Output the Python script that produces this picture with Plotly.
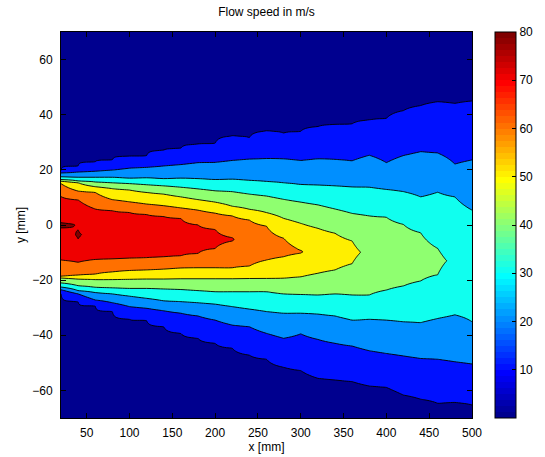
import numpy as np
import plotly.graph_objects as go

# Measurement stations downstream of the nozzle [mm]
x_mm = [20, 40, 60, 80, 100, 120, 140, 160, 180, 200, 220, 240, 260,
        280, 300, 320, 340, 360, 380, 400, 420, 440, 460, 480, 500]

# Isoline positions y [mm] of each speed level at every station,
# upper side of the jet (None: level not reached at that station)
up_10 = [19.7, 21.4, 22.9, 23.6, 25.0, 25.1, 27.1, 27.8, 29.3, 29.6, 32.3, 31.7, 34.1,
         33.3, 34.0, 35.7, 36.5, 36.7, 38.1, 38.7, 41.5, 43.3, 44.7, 44.1, 45.0]
up_20 = [18.9, 19.2, 19.5, 19.9, 20.6, 20.9, 21.4, 21.9, 22.6, 22.7, 23.4, 23.9, 24.1,
         24.0, 23.4, 24.0, 23.8, 23.3, 25.3, 22.6, 25.2, 26.6, 26.1, 22.1, 23.6]
up_30 = [17.5, 17.3, 17.3, 17.3, 17.0, 17.1, 16.8, 17.0, 16.8, 16.5, 16.6, 16.2, 15.8,
         15.3, 14.7, 14.5, 14.2, 13.8, 13.7, 12.9, 12.1, 10.2, 11.9, 10.2, 5.4]
up_40 = [16.5, 16.0, 15.6, 15.3, 15.0, 14.6, 14.2, 13.7, 13.1, 12.4, 12.1, 11.2, 10.5,
         9.3, 8.3, 7.3, 5.8, 4.2, 3.3, 2.8, 0.2, -2.8, -8.5, None, None]
up_50 = [15.9, 15.3, 13.9, 13.2, 12.7, 11.8, 11.2, 10.2, 9.2, 8.3, 6.8, 5.7, 4.5,
         2.4, 0.6, -1.2, -3.0, -5.8, None, None, None, None, None, None, None]
up_60 = [15.0, 12.3, 11.8, 9.2, 8.4, 7.6, 7.0, 6.2, 5.4, 4.3, 3.3, 1.8, -0.4,
         -4.8, -9.2, None, None, None, None, None, None, None, None, None, None]
up_70 = [10.3, 9.1, 5.8, 5.2, 4.5, 3.8, 3.1, 2.4, 0.0, -1.6, -4.6, None, None,
         None, None, None, None, None, None, None, None, None, None, None, None]

# lower side of the jet
lo_70 = [-12.7, -13.5, -12.5, -12.3, -12.0, -11.9, -11.5, -11.2, -10.3, -8.5, -5.8, None, None,
         None, None, None, None, None, None, None, None, None, None, None, None]
lo_60 = [-18.7, -18.2, -17.8, -17.0, -16.5, -16.3, -16.0, -15.6, -15.5, -15.5, -15.5, -14.9, -12.7,
         -11.5, -10.2, None, None, None, None, None, None, None, None, None, None]
lo_50 = [-19.2, -19.6, -19.8, -19.8, -19.7, -19.6, -19.6, -19.5, -19.5, -19.5, -19.5, -19.4, -19.4,
         -19.3, -18.8, -17.5, -16.3, -14.0, None, None, None, None, None, None, None]
lo_40 = [-21.0, -22.0, -22.6, -22.8, -23.0, -23.0, -23.2, -23.4, -23.8, -24.2, -24.2, -24.2, -24.2,
         -25.0, -25.2, -25.4, -25.0, -25.4, -25.4, -23.6, -22.1, -20.3, -18.0, None, None]
lo_30 = [-22.5, -23.8, -24.5, -25.0, -25.8, -26.6, -27.5, -27.8, -28.2, -28.7, -29.6, -30.5, -31.4,
         -32.0, -32.0, -32.3, -33.0, -34.5, -34.2, -34.5, -35.1, -35.4, -33.9, -32.6, -35.1]
lo_20 = [-23.5, -25.0, -27.2, -28.2, -29.6, -30.2, -31.1, -32.0, -33.0, -34.5, -36.3, -36.9, -39.3,
         -41.1, -39.5, -41.5, -42.9, -43.9, -45.6, -46.6, -47.5, -48.4, -48.7, -49.6, -50.4]
lo_10 = [-24.8, -27.8, -29.4, -31.4, -34.2, -34.7, -36.9, -39.3, -41.1, -42.9, -44.7, -47.2, -48.7,
         -51.6, -52.8, -55.6, -56.2, -56.8, -58.4, -58.9, -61.7, -63.2, -64.7, -64.4, -65.3]

# Jet core: peak speed [m/s] and its position y [mm] at each station
peak_speed = [80.9, 80.4, 78.5, 77.5, 76.5, 75.5, 74.5, 73.5, 72.5, 71.5, 70.5, 67.5, 64.5,
              62.3, 60.4, 57.5, 54.5, 51.5, 48.5, 46.5, 44.5, 42.8, 41.3, 38.8, 37.5]
peak_y = [0.0, -3.6, -3.5, -3.5, -3.5, -4.0, -4.0, -4.5, -5.0, -5.0, -5.2, -6.5, -8.0,
          -8.5, -9.7, -9.7, -9.7, -9.7, -10.0, -11.0, -12.0, -12.5, -13.0, -13.0, -13.0]

# Extra core samples near the nozzle (station x [mm], y [mm], speed [m/s])
core_x = [40, 40, 40]
core_y = [-5.1, -1.8, 0.3]
core_v = [80.0, 80.0, 79.75]

# Ambient speed at the edges of the traverse
ambient_speed = 2.0

levels = [10, 20, 30, 40, 50, 60, 70]
upper = [up_10, up_20, up_30, up_40, up_50, up_60, up_70]
lower = [lo_10, lo_20, lo_30, lo_40, lo_50, lo_60, lo_70]

# Speed table on a regular (x, y) grid, built from the station profiles
y_grid = np.round(np.arange(-70.0, 70.0001, 0.25), 3)
speed = np.empty((y_grid.size, len(x_mm)))
for i, xs in enumerate(x_mm):
    samples = [(-70.0, ambient_speed), (70.0, ambient_speed), (peak_y[i], peak_speed[i])]
    for lev, lo_arr, up_arr in zip(levels, lower, upper):
        if lo_arr[i] is not None:
            samples.append((lo_arr[i], lev))
        if up_arr[i] is not None:
            samples.append((up_arr[i], lev))
    samples += [(cy, cv) for cx, cy, cv in zip(core_x, core_y, core_v) if cx == xs]
    samples.sort()
    ys, vs = zip(*samples)
    speed[:, i] = np.interp(y_grid, ys, vs)


def jet64():
    """MATLAB-style jet colormap with 64 entries, as a stepped Plotly colorscale."""
    n, m = 64, 16
    u = np.concatenate([np.arange(1, m + 1) / m, np.ones(m - 1), np.arange(m, 0, -1) / m])
    g = (m // 2) + np.arange(1, u.size + 1)
    r, b = g + m, g - m
    rgb = np.zeros((n, 3))
    for ch, idx in ((0, r), (1, g), (2, b)):
        ok = (idx >= 1) & (idx <= n)
        rgb[idx[ok] - 1, ch] = u[ok]
    scale, eps = [], 1e-4
    for j in range(n):
        c = "rgb({:d},{:d},{:d})".format(*[int(round(v * 255)) for v in rgb[j]])
        lo = 0.0 if j == 0 else j / n - eps
        hi = 1.0 if j == n - 1 else (j + 1) / n - eps
        scale += [[lo, c], [hi, c]]
    return scale


JET = jet64()
FONT = "Liberation Sans, Arial, Helvetica, sans-serif"

fig = go.Figure()

# Heatmap layer carries the colour scale shown in the colour bar
fig.add_trace(go.Heatmap(
    x=x_mm, y=y_grid, z=speed, colorscale=JET, zmin=0, zmax=80,
    hoverinfo="skip",
    colorbar=dict(
        x=(495 - 61) / 411, xanchor="left", xpad=0,
        y=0.5, yanchor="middle", ypad=0, len=1, lenmode="fraction",
        thickness=21, thicknessmode="pixels",
        outlinewidth=1, outlinecolor="black",
        tickvals=[10, 20, 30, 40, 50, 60, 70, 80],
        ticks="inside", ticklen=4, tickcolor="black",
        tickfont=dict(family=FONT, size=12, color="black"),
    ),
))

# Filled contours of the flow speed
fig.add_trace(go.Contour(
    x=x_mm, y=y_grid, z=speed, colorscale=JET, showscale=False,
    autocontour=False,
    contours=dict(start=10, end=80, size=10, coloring="fill"),
    line=dict(color="black", width=0.9),
    hovertemplate="x=%{x} mm<br>y=%{y} mm<br>%{z:.1f} m/s<extra></extra>",
))

axis_common = dict(
    showgrid=False, zeroline=False, showline=True, linecolor="black", linewidth=1,
    mirror="ticks", ticks="inside", ticklen=5, tickcolor="black",
    tickfont=dict(family=FONT, size=12, color="black"),
)

fig.update_layout(
    width=545, height=457,
    margin=dict(l=61, r=73, t=32, b=39, autoexpand=False),
    paper_bgcolor="white", plot_bgcolor="white",
    font=dict(family=FONT, size=12, color="black"),
    title=dict(text="Flow speed in m/s", x=0.5, xref="paper", xanchor="center",
               y=1 - 12 / 457, yref="container", yanchor="middle",
               font=dict(family=FONT, size=12, color="black")),
    xaxis=dict(range=[20, 500], tickvals=list(range(50, 501, 50)), ticklabelstandoff=4,
               title=dict(text="x [mm]", standoff=0, font=dict(family=FONT, size=12)),
               **axis_common),
    yaxis=dict(range=[-70, 70], tickvals=list(range(-60, 61, 20)), ticklabelstandoff=5,
               title=dict(text="y [mm]", standoff=4, font=dict(family=FONT, size=12)),
               **axis_common),
    showlegend=False,
)

fig.write_html("out.html")
